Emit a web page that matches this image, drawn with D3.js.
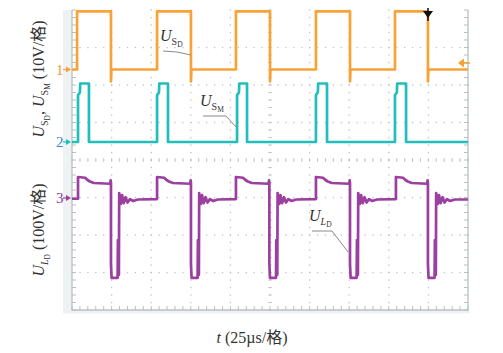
<!DOCTYPE html>
<html>
<head>
<meta charset="utf-8">
<script src="https://cdn.jsdelivr.net/npm/d3@7"></script>
<style>
  body { margin: 0; background: #fff; }
  text { font-family: "Liberation Serif", "Times New Roman", "Noto Sans CJK SC", serif; fill: #333; }
</style>
</head>
<body>
<div id="chart"></div>
<script>
// time in µs (25 µs/格), values in volts
const ch1 = [[0,0],[3.2,0],[3.2,15.5],[24.6,15.5],[24.6,-3.2],[24.9,0],
  [53.7,0],[53.7,15.5],[75.1,15.5],[75.1,-3.2],[75.4,0],
  [103.5,0],[103.5,15.5],[125.0,15.5],[125.0,-3.2],[125.3,0],
  [154.0,0],[154.0,15.5],[175.5,15.5],[175.5,-3.2],[175.8,0],
  [203.9,0],[203.9,15.5],[224.7,15.5],[224.7,-3.2],[225.0,0],[250,0]];

const ch2 = [[0,0],[3.8,0],[3.8,12.5],[5.0,13.2],[5.2,15.6],[10.7,15.6],[10.7,0],
  [53.7,0],[53.7,12.5],[54.9,13.2],[55.1,15.6],[60.6,15.6],[60.6,0],
  [104.2,0],[104.2,12.5],[105.4,13.2],[105.6,15.6],[110.5,15.6],[110.5,0],
  [154.0,0],[154.0,12.5],[155.2,13.2],[155.4,15.6],[161.0,15.6],[161.0,0],
  [203.9,0],[203.9,12.5],[205.1,13.2],[205.3,15.6],[210.9,15.6],[210.9,0],[250,0]];

const ch3 = [[0,-2],[3.8,-2],[3.8,56],[8.3,54],[9.8,48],[11.3,44],[13.8,40],[24.1,38],[24.4,47],[24.6,40],
  [24.6,-175],[25.0,-213],[28.8,-213],[29.0,-112],[29.2,-205],[29.6,-205],[29.8,13],[30.8,-16],[31.6,8],
  [32.6,-14],[33.8,2],[35.1,-12],[36.6,-3],[38.6,-8],[41.6,-4],
  [53.7,-3],[53.7,56],[58.2,54],[59.7,48],[61.2,44],[63.7,40],[74.6,38],[74.9,47],[75.1,40],
  [75.1,-175],[75.5,-213],[79.3,-213],[79.5,-112],[79.7,-205],[80.1,-205],[80.3,13],[81.3,-16],[82.1,8],
  [83.1,-14],[84.3,2],[85.6,-12],[87.1,-3],[89.1,-8],[92.1,-4],
  [103.5,-3],[103.5,56],[108.0,54],[109.5,48],[111.0,44],[113.5,40],[124.1,38],[124.4,47],[124.6,40],
  [124.6,-175],[125.0,-213],[128.8,-213],[129.0,-112],[129.2,-205],[129.6,-205],[129.8,13],[130.8,-16],[131.6,8],
  [132.6,-14],[133.8,2],[135.1,-12],[136.6,-3],[138.6,-8],[141.6,-4],
  [154.0,-3],[154.0,56],[158.5,54],[160.0,48],[161.5,44],[164.0,40],[175.0,38],[175.3,47],[175.5,40],
  [175.5,-175],[175.9,-213],[179.7,-213],[179.9,-112],[180.1,-205],[180.5,-205],[180.7,13],[181.7,-16],[182.5,8],
  [183.5,-14],[184.7,2],[186.0,-12],[187.5,-3],[189.5,-8],[192.5,-4],
  [204.5,-3],[204.5,56],[209.0,54],[210.5,48],[212.0,44],[214.5,40],[224.2,38],[224.5,47],[224.7,40],
  [224.7,-175],[225.1,-213],[228.9,-213],[229.1,-112],[229.3,-205],[229.7,-205],[229.9,13],[230.9,-16],[231.7,8],
  [232.7,-14],[233.9,2],[235.2,-12],[236.7,-3],[238.7,-8],[241.7,-4],[250,-4]];

const channelLabels = ["1", "2", "3"];
const xTitle = "(25µs/格)";
const yTitleTop = "(10V/格)";
const yTitleBottom = "(100V/格)";

const W = 503, H = 353;
const plot = { left: 72, right: 468, top: 10, bottom: 310 };

const svg = d3.select("#chart").append("svg")
  .attr("width", W).attr("height", H);

const x = d3.scaleLinear().domain([0, 250]).range([plot.left, plot.right]);
const yDiv = d3.scaleLinear().domain([-4, 4]).range([plot.bottom, plot.top]);
const xDiv = d3.scaleLinear().domain([0, 10]).range([plot.left, plot.right]);

// channel placement on the screen (divisions) and volts per division
const channels = [
  { data: ch1, offset: 2.413, perDiv: 10,  color: "#f7a338", labelColor: "#f29a2e", arrow: "#f6a134" },
  { data: ch2, offset: 0.48,  perDiv: 10,  color: "#22bdbd", labelColor: "#3f7fcf", arrow: "#22bdbd" },
  { data: ch3, offset: -1.013, perDiv: 100, color: "#9b3fa0", labelColor: "#8e3a90", arrow: "#9b3fa0" }
];

// graticule
const grid = svg.append("g");
grid.append("rect")
  .attr("x", 63).attr("y", plot.top).attr("width", plot.left - 63).attr("height", 303)
  .attr("fill", "#eef2f3");
grid.append("rect")
  .attr("x", 63).attr("y", plot.bottom).attr("width", plot.right + 2 - 63).attr("height", 3.5)
  .attr("fill", "#eef2f3");

const fineX = d3.range(0, 51).map(i => i / 5);
const fineY = d3.range(0, 41).map(i => i / 5 - 4);

// dotted lines at each division
const dots = [];
d3.range(1, 10).forEach(i => fineY.forEach(v => dots.push([xDiv(i), yDiv(v)])));
d3.range(-3, 4).forEach(j => fineX.forEach(v => dots.push([xDiv(v), yDiv(j)])));
grid.selectAll(".dot").data(dots).join("rect")
  .attr("class", "dot")
  .attr("x", d => d[0] - 0.6).attr("y", d => d[1] - 0.6)
  .attr("width", 1.3).attr("height", 1.3)
  .attr("fill", "#c2c2c2");

// centre cross ticks
grid.selectAll(".cx").data(fineY).join("line")
  .attr("x1", xDiv(5) - 2).attr("x2", xDiv(5) + 2)
  .attr("y1", d => yDiv(d)).attr("y2", d => yDiv(d))
  .attr("stroke", "#c4c4c4").attr("stroke-width", 0.8);
grid.selectAll(".cy").data(fineX).join("line")
  .attr("y1", yDiv(0) - 2).attr("y2", yDiv(0) + 2)
  .attr("x1", d => xDiv(d)).attr("x2", d => xDiv(d))
  .attr("stroke", "#c4c4c4").attr("stroke-width", 0.8);

// edge ticks
grid.selectAll(".lt").data(fineY).join("line")
  .attr("x1", plot.left).attr("x2", plot.left + 4)
  .attr("y1", d => yDiv(d)).attr("y2", d => yDiv(d))
  .attr("stroke", "#b8c0c4").attr("stroke-width", 1);
grid.selectAll(".rt").data(fineY).join("line")
  .attr("x1", plot.right).attr("x2", plot.right - 4)
  .attr("y1", d => yDiv(d)).attr("y2", d => yDiv(d))
  .attr("stroke", "#b8c0c4").attr("stroke-width", 1);
grid.selectAll(".bt").data(fineX).join("line")
  .attr("y1", plot.bottom).attr("y2", plot.bottom - 4)
  .attr("x1", d => xDiv(d)).attr("x2", d => xDiv(d))
  .attr("stroke", "#b8c0c4").attr("stroke-width", 1);

grid.append("path")
  .attr("d", `M${plot.left},${plot.top}V${plot.bottom}H${plot.right}V${plot.top}`)
  .attr("fill", "none").attr("stroke", "#b8c0c4").attr("stroke-width", 1.3);

// traces
channels.forEach(c => {
  const line = d3.line()
    .x(d => x(d[0]))
    .y(d => yDiv(c.offset + d[1] / c.perDiv));
  svg.append("path")
    .datum(c.data)
    .attr("d", line)
    .attr("fill", "none")
    .attr("stroke", c.color)
    .attr("stroke-width", 2.7)
    .attr("stroke-linejoin", "round");
});

// channel markers
channels.forEach((c, i) => {
  const yy = yDiv(c.offset);
  svg.append("text")
    .attr("x", 56).attr("y", yy + 5)
    .attr("font-size", 15)
    .style("fill", c.labelColor)
    .text(channelLabels[i]);
  svg.append("line")
    .attr("x1", 63).attr("x2", 68).attr("y1", yy).attr("y2", yy)
    .attr("stroke", c.arrow).attr("stroke-width", 1.2);
  svg.append("path")
    .attr("d", `M66,${yy - 3}L71,${yy}L66,${yy + 3}Z`)
    .attr("fill", c.arrow);
});

// trigger level (right) and trigger position (top)
const trigY = 63;
svg.append("path")
  .attr("d", `M458,${trigY}L464,${trigY - 4.5}L464,${trigY + 4.5}Z`)
  .attr("fill", "#f6a134");
svg.append("line")
  .attr("x1", 462).attr("x2", 470).attr("y1", trigY).attr("y2", trigY)
  .attr("stroke", "#f6a134").attr("stroke-width", 1.5);
svg.append("path")
  .attr("d", "M423,11L433,11L428,18Z")
  .attr("fill", "#111");
svg.append("line")
  .attr("x1", 428).attr("x2", 428).attr("y1", 8).attr("y2", 21)
  .attr("stroke", "#111").attr("stroke-width", 1.5);

// subscript label helper
function label(sel, parts, size) {
  let shift = 0;
  parts.forEach(p => {
    const t = sel.append("tspan").text(p.t);
    const target = p.sub || 0;
    t.attr("dy", target - shift);
    shift = target;
    t.attr("font-size", p.size || size);
    if (p.it) t.attr("font-style", "italic");
  });
}

// annotations with leader lines
const annotations = [
  { x: 160, y: 41, parts: [{ t: "U", it: true }, { t: "S", sub: 4, size: 10 }, { t: "D", sub: 6, size: 7.5 }],
    leader: [[163, 51], [177, 52], [191, 55]] },
  { x: 200, y: 106, parts: [{ t: "U", it: true }, { t: "S", sub: 4, size: 10 }, { t: "M", sub: 6, size: 7.5 }],
    leader: [[203, 116], [226, 116], [237, 128]] },
  { x: 309, y: 221, parts: [{ t: "U", it: true }, { t: "L", sub: 4, size: 10, it: true }, { t: "D", sub: 6, size: 7.5 }],
    leader: [[312, 231], [332, 231], [348, 252]] }
];
annotations.forEach(a => {
  const t = svg.append("text").attr("x", a.x).attr("y", a.y).attr("font-size", 16);
  label(t, a.parts, 16);
  svg.append("path")
    .attr("d", d3.line()(a.leader))
    .attr("fill", "none").attr("stroke", "#8a8a8a").attr("stroke-width", 1);
});

// axis titles
const yt1 = svg.append("text")
  .attr("transform", "translate(44,79) rotate(-90)")
  .attr("text-anchor", "middle").attr("font-size", 16);
label(yt1, [
  { t: "U", it: true }, { t: "S", sub: 4, size: 10 }, { t: "D", sub: 6, size: 7.5 },
  { t: ", " }, { t: "U", it: true }, { t: "S", sub: 4, size: 10 }, { t: "M", sub: 6, size: 7.5 },
  { t: " " + yTitleTop }
], 16);

const yt2 = svg.append("text")
  .attr("transform", "translate(44,230) rotate(-90)")
  .attr("text-anchor", "middle").attr("font-size", 16);
label(yt2, [
  { t: "U", it: true }, { t: "L", sub: 4, size: 10, it: true }, { t: "D", sub: 6, size: 7.5 },
  { t: " " + yTitleBottom }
], 16);

const xt = svg.append("text")
  .attr("x", 252).attr("y", 343)
  .attr("text-anchor", "middle").attr("font-size", 16);
label(xt, [{ t: "t", it: true }, { t: " " + xTitle }], 16);
</script>
</body>
</html>
